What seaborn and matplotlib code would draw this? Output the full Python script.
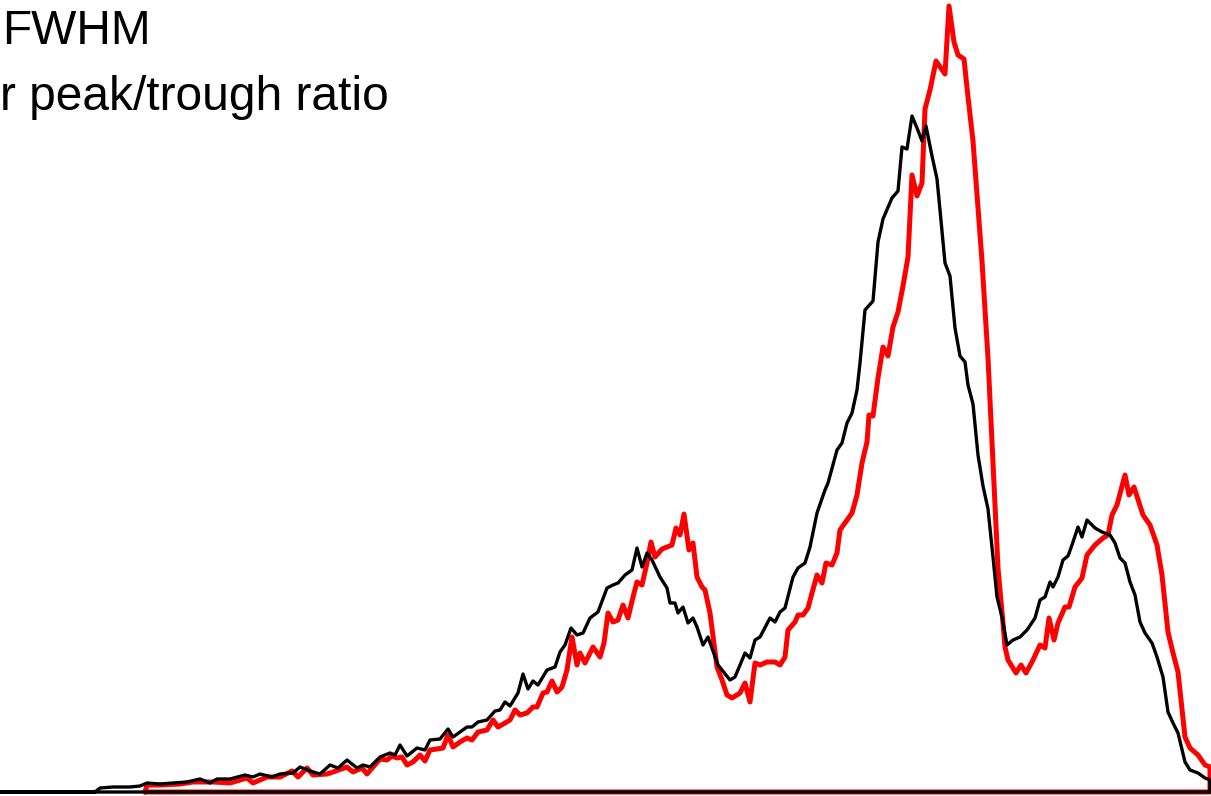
import numpy as np
import pandas as pd
import matplotlib
matplotlib.use("Agg")
import matplotlib.pyplot as plt
import seaborn as sns

# distribution traces (x position, height above baseline)
black_x = [0, 95, 100, 113, 130, 140, 147, 160, 173, 187, 200, 210, 217, 230, 245, 253, 260, 272, 280,
           293, 300, 310, 320, 330, 338, 347, 357, 363, 370, 380, 390, 395, 400, 407, 417, 425, 430,
           440, 448, 453, 467, 472, 478, 487, 495, 500, 505, 510, 518, 523, 528, 533, 538, 547, 555,
           560, 565, 571, 577, 583, 590, 598, 607, 613, 618, 625, 632, 637, 642, 647, 652, 660, 667,
           670, 675, 678, 683, 688, 693, 697, 703, 708, 718, 730, 735, 745, 750, 755, 760, 770, 775,
           780, 785, 793, 798, 805, 810, 817, 825, 828, 837, 842, 847, 852, 857, 860, 865, 873, 878,
           883, 892, 898, 902, 907, 912, 917, 922, 926, 932, 937, 940, 945, 950, 955, 960, 965, 968,
           973, 978, 983, 988, 993, 997, 1002, 1007, 1013, 1020, 1027, 1035, 1040, 1045, 1050, 1053,
           1058, 1063, 1068, 1072, 1078, 1082, 1087, 1095, 1102, 1110, 1115, 1120, 1125, 1130, 1135,
           1140, 1145, 1152, 1157, 1163, 1168, 1173, 1178, 1185, 1190, 1198, 1205, 1210]
black_px = [792, 792, 788, 787, 787, 786, 783, 784, 783, 782, 779, 783, 779, 779, 775, 777, 774, 777, 774,
            773, 767, 771, 774, 765, 768, 760, 768, 765, 767, 757, 753, 755, 745, 756, 748, 750, 740,
            739, 729, 737, 727, 727, 722, 720, 711, 710, 702, 706, 693, 674, 689, 681, 685, 670, 667,
            652, 645, 628, 635, 633, 618, 612, 588, 585, 583, 575, 570, 548, 567, 553, 560, 577, 588,
            603, 603, 613, 607, 623, 618, 627, 645, 637, 665, 680, 677, 653, 658, 640, 637, 618, 622,
            612, 608, 577, 568, 563, 547, 513, 490, 483, 450, 443, 423, 413, 390, 363, 310, 301, 242,
            219, 198, 191, 147, 149, 116, 128, 141, 126, 156, 179, 210, 263, 276, 328, 356, 362, 385,
            404, 455, 486, 509, 557, 597, 617, 645, 640, 637, 630, 618, 600, 597, 582, 587,
            577, 560, 556, 545, 527, 537, 520, 528, 532, 535, 543, 558, 563, 582, 595,
            622, 633, 643, 657, 677, 712, 723, 733, 762, 770, 773, 778, 780]

red_x = [145, 147, 160, 180, 193, 213, 230, 247, 253, 267, 280, 292, 298, 307, 313, 327, 333, 347, 353,
         362, 367, 373, 380, 387, 392, 397, 402, 407, 413, 420, 425, 430, 437, 443, 448, 453, 460, 467,
         472, 478, 487, 493, 498, 505, 510, 515, 520, 527, 533, 537, 543, 547, 552, 557, 562, 567, 572,
         577, 580, 585, 593, 600, 604, 608, 613, 618, 623, 628, 633, 637, 642, 647, 651, 655, 662, 672,
         676, 680, 684, 689, 693, 697, 702, 705, 710, 717, 722, 727, 732, 740, 745, 750, 755, 760, 767,
         775, 780, 785, 788, 795, 798, 803, 808, 812, 817, 822, 826, 832, 837, 840, 847, 852, 857, 862,
         867, 869, 873, 878, 883, 888, 893, 898, 903, 908, 912, 917, 922, 925, 930, 936, 945, 949, 954,
         958, 964, 968, 973, 982, 988, 993, 998, 1003, 1005, 1008, 1016, 1021, 1026, 1033, 1040, 1045,
         1049, 1054, 1058, 1065, 1069, 1075, 1082, 1087, 1095, 1103, 1108, 1112, 1117, 1125, 1129, 1134,
         1143, 1150, 1157, 1162, 1168, 1173, 1178, 1185, 1190, 1198, 1205, 1210]
red_px = [792, 785, 785, 784, 782, 782, 783, 778, 783, 777, 777, 771, 777, 768, 775, 774, 772, 767, 772,
          768, 774, 767, 759, 760, 756, 758, 757, 765, 762, 755, 761, 750, 749, 748, 735, 747, 742, 738,
          740, 732, 730, 720, 727, 723, 720, 710, 715, 713, 707, 707, 693, 692, 681, 692, 687, 670, 637,
          665, 653, 663, 647, 657, 643, 613, 622, 620, 605, 618, 597, 582, 585, 563, 542, 557, 549, 545,
          528, 535, 514, 550, 543, 577, 587, 590, 613, 667, 680, 695, 698, 693, 683, 702, 663, 665, 662,
          662, 665, 657, 630, 622, 615, 615, 608, 593, 575, 583, 563, 565, 553, 530, 520, 513, 495, 463,
          442, 415, 416, 378, 347, 356, 327, 312, 286, 257, 175, 196, 183, 109, 90, 61, 74, 6, 42,
          55, 59, 97, 141, 261, 358, 463, 568, 623, 647, 660, 673, 665, 673, 660, 645, 648,
          618, 640, 623, 607, 607, 587, 578, 555, 545, 538, 535, 515, 505, 475, 495, 487,
          515, 525, 545, 575, 632, 653, 672, 737, 748, 755, 765, 767]

labels = ["FWHM", "r peak/trough ratio"]

base = 792
black_y = [base - v for v in black_px]
red_y = [base - v for v in red_px]


def closed(xs, ys):
    # outline drawn like an unfilled histogram: curve plus its baseline
    return pd.DataFrame({"x": list(xs) + [xs[-1], xs[0]], "y": list(ys) + [0, 0]})


sns.set_style("white")
plt.rcParams["font.family"] = ["Liberation Sans", "DejaVu Sans"]

fig = plt.figure(figsize=(12.11, 7.96), dpi=100)
ax = fig.add_axes([0, 0, 1, 1])

sns.lineplot(data=closed(red_x, red_y), x="x", y="y", sort=False, estimator=None,
             color="#ff0000", linewidth=3.6, ax=ax, zorder=2)
sns.lineplot(data=closed(black_x, black_y), x="x", y="y", sort=False, estimator=None,
             color="#000000", linewidth=2.4, ax=ax, zorder=3)

ax.set_xlim(0, 1211)
ax.set_ylim(-4, 792)
ax.axis("off")

fig.text(2 / 1211, 1 - 44 / 796, labels[0], fontsize=34.5, color="black", va="baseline", ha="left")
fig.text(0, 1 - 110 / 796, labels[1], fontsize=34.5, color="black", va="baseline", ha="left")

fig.savefig("out.png", dpi=100)
plt.close(fig)
